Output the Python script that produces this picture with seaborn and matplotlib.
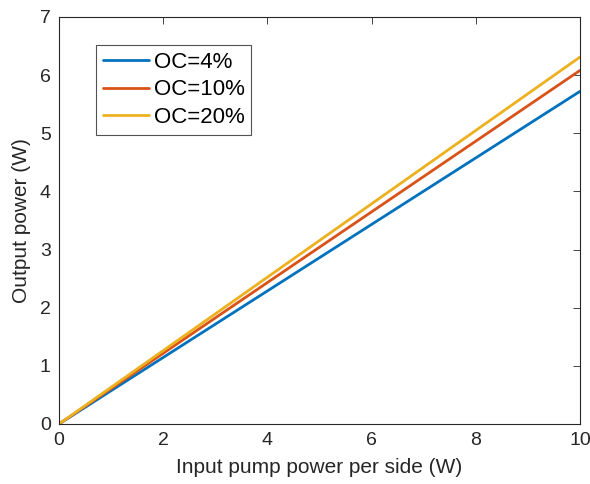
import matplotlib
matplotlib.use('Agg')
import matplotlib.pyplot as plt
import seaborn as sns
import pandas as pd

pump_power = [0, 10]
oc_labels = ['OC=4%', 'OC=10%', 'OC=20%']
out_4 = [0, 5.72]
out_10 = [0, 6.08]
out_20 = [0, 6.31]
colors = ['#0072BD', '#D95319', '#EDB120']

sns.set_style('white')
plt.rcParams['font.family'] = ['Liberation Sans', 'DejaVu Sans']

rows = []
for label, vals in zip(oc_labels, [out_4, out_10, out_20]):
    for x, y in zip(pump_power, vals):
        rows.append({'pump': x, 'out': y, 'oc': label})
df = pd.DataFrame(rows)

fig = plt.figure(figsize=(5.9, 4.84), dpi=100)
ax = fig.add_axes([0.1, 0.124, 0.883, 0.841])
sns.lineplot(data=df, x='pump', y='out', hue='oc', palette=colors, linewidth=2, ax=ax)

ax.set_xlim(0, 10)
ax.set_ylim(0, 7)
ax.set_xticks(range(0, 11, 2))
ax.set_yticks(range(0, 8))
ax.set_xlabel('Input pump power per side (W)', fontsize=15, color='#262626', labelpad=6)
ax.set_ylabel('Output power (W)', fontsize=15, color='#262626', labelpad=6)
ax.tick_params(direction='in', top=True, right=True, labelsize=14, colors='#262626',
               length=5, width=0.6, pad=6)
for s in ax.spines.values():
    s.set_color('#262626')
    s.set_linewidth(0.8)

leg = ax.legend(loc='upper left', bbox_to_anchor=(0.071, 0.931), fontsize=16, frameon=True,
                fancybox=False, edgecolor='#262626', handlelength=2.1, borderpad=0.3,
                labelspacing=0.3, handletextpad=0.2, borderaxespad=0)
leg.get_frame().set_linewidth(0.8)
for t in leg.get_texts():
    t.set_color('black')

fig.savefig('out.png', dpi=100)
plt.close(fig)
